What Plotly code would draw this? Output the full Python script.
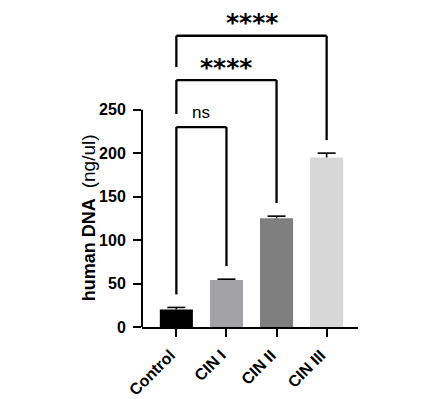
import plotly.graph_objects as go

categories = ["Control", "CIN I", "CIN II", "CIN III"]
means = [20, 54, 125, 195]
errors = [2.5, 1, 2.5, 5]
bar_colors = ["#000000", "#a2a2a7", "#7f7f7f", "#d7d7d7"]
y_ticks = [0, 50, 100, 150, 200, 250]
# comparisons: (group a, group b, label, bracket height)
comparisons = [(0, 1, "ns", 230), (0, 2, "****", 284), (0, 3, "****", 335)]

xs = list(range(len(categories)))
fig = go.Figure()
fig.add_trace(go.Bar(
    x=xs, y=means,
    marker=dict(color=bar_colors, line=dict(width=0)),
    width=0.66, showlegend=False, hoverinfo="skip",
))

# upward-only error bars (line from bar top to mean+err, with a cap)
cap = 0.18
ex, ey = [], []
for x, m, e in zip(xs, means, errors):
    ex += [x, x, None, x - cap, x + cap, None]
    ey += [m, m + e, None, m + e, m + e, None]
fig.add_trace(go.Scatter(x=ex, y=ey, mode="lines", line=dict(color="black", width=1.6),
                         showlegend=False, hoverinfo="skip"))

gap = 15
shapes = []
annotations = []
prev_level = None
for a, b, label, level in comparisons:
    left_bottom = (means[a] + errors[a] + gap) if prev_level is None else prev_level + gap
    right_bottom = means[b] + errors[b] + gap
    for x0, y0, x1, y1 in [(a, left_bottom, a, level), (a, level, b, level), (b, level, b, right_bottom)]:
        shapes.append(dict(type="line", xref="x", yref="y", x0=x0, y0=y0, x1=x1, y1=y1,
                           line=dict(color="black", width=2.3)))
    if label == "ns":
        annotations.append(dict(x=(a + b) / 2, y=level + 4, xref="x", yref="y", text=label,
                                showarrow=False, yanchor="bottom",
                                font=dict(family="Liberation Sans, Arial", size=17, color="black")))
    else:
        annotations.append(dict(x=(a + b) / 2, y=level - 4, xref="x", yref="y", text="<b>" + label + "</b>",
                                showarrow=False, yanchor="bottom",
                                font=dict(family="DejaVu Sans", size=25, color="black")))
    prev_level = level

# rotated category labels
for x, name in zip(xs, categories):
    annotations.append(dict(x=x, xref="x", xshift=5, y=0, yref="paper", yshift=-17,
                            text="<b>" + name + "</b>", textangle=-45, showarrow=False,
                            xanchor="right", yanchor="top",
                            font=dict(family="Liberation Sans, Arial", size=16, color="black")))

# y axis title centred on the 0-250 part of the axis
annotations.append(dict(x=0, xref="paper", xshift=-54, y=y_ticks[-1] / 2, yref="y",
                        text="<b>human DNA</b>\u00a0\u00a0<span style='font-size:19px'>(ng/ul)</span>",
                        textangle=-90,
                        showarrow=False, xanchor="center", yanchor="middle",
                        font=dict(family="Liberation Sans, Arial", size=18, color="black")))

# y axis line only from 0 to 250
shapes.append(dict(type="line", xref="paper", yref="y", x0=0, x1=0, y0=0, y1=y_ticks[-1],
                   line=dict(color="black", width=2)))

fig.update_layout(
    width=425, height=399,
    margin=dict(l=142, r=67, t=14, b=72, autoexpand=False),
    paper_bgcolor="white", plot_bgcolor="white",
    shapes=shapes, annotations=annotations,
    xaxis=dict(range=[-0.686, 3.626], tickvals=xs, showticklabels=False, automargin=False,
               showline=True, linecolor="black", linewidth=2,
               ticks="outside", ticklen=8, tickwidth=2, tickcolor="black",
               showgrid=False, zeroline=False),
    yaxis=dict(range=[0, 360], tickvals=y_ticks, showline=False, automargin=False,
               ticks="outside", ticklen=8, tickwidth=2, tickcolor="black",
               showgrid=False, zeroline=False, ticklabelstandoff=4,
               tickfont=dict(family="Liberation Sans, Arial", size=16, color="black", weight="bold")),
)
fig.write_html("out.html", config={"displayModeBar": False},
               post_script="document.body.style.margin='0px';document.body.style.overflow='hidden';")
